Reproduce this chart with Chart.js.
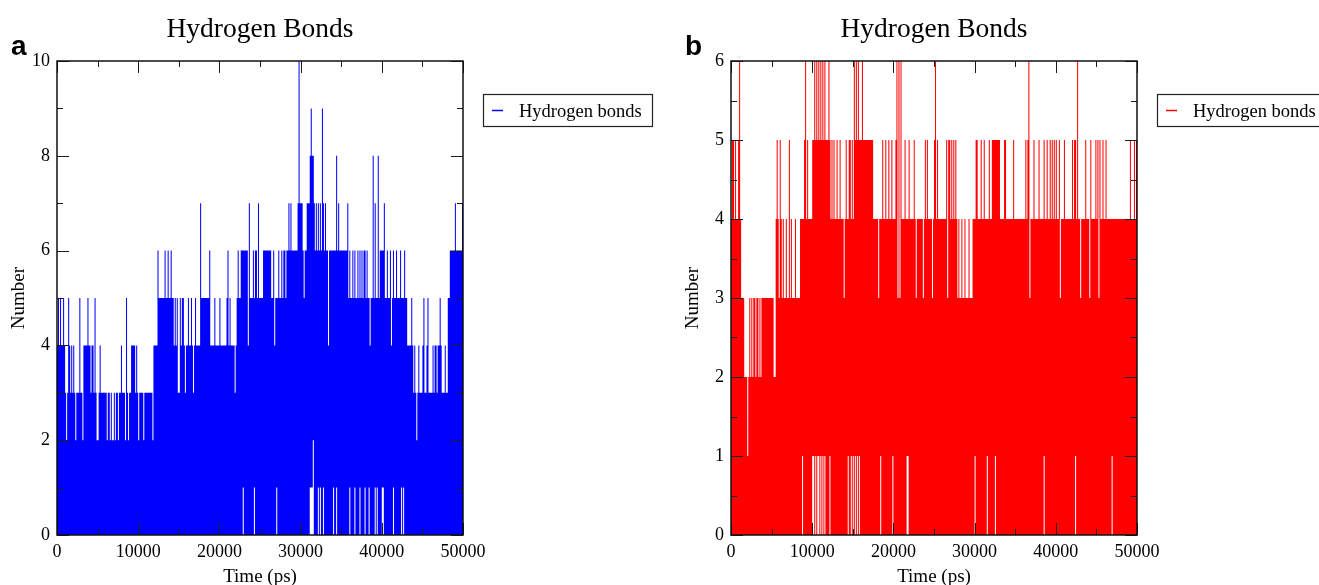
<!DOCTYPE html>
<html>
<head>
<meta charset="utf-8">
<script src="https://cdn.jsdelivr.net/npm/chart.js@4.4.1/dist/chart.umd.min.js"></script>
<style>
html,body{margin:0;padding:0;background:#fff;width:1319px;height:585px;overflow:hidden;}
canvas{position:absolute;top:0;}
#cA{left:0;}
#cB{left:674px;}
</style>
</head>
<body>
<canvas id="cA" width="674" height="585"></canvas>
<canvas id="cB" width="645" height="585"></canvas>
<script>
// ---------- DATA ----------
// Each value is the highest number of hydrogen bonds seen in a 125 ps bin.
const binPs = 125;

// Panel a (blue), 0-50000 ps in five 10000-ps blocks
const upperA0 = [4,5,4,5,4,4,5,4,3,2, 3,5,4,3,4,3,4,3,2,3, 3,3,5,3,3,2,4,4,4,4, 5,4,4,3,4,4,3,5,3,2, 2,3,4,3,3,3,3,3,3,2, 3,3,2,3,2,2,3,2,3,3, 2,3,3,4,3,3,3,2,5,3, 2,3,3,4,4,4,4,3,4,3];
const upperA1 = [2,3,3,3,3,2,3,3,3,3, 3,3,3,3,2,4,4,4,4,6, 5,5,5,5,5,5,6,5,5,6, 5,5,6,5,5,4,5,4,5,3, 3,5,4,5,5,4,3,4,4,5, 4,4,5,4,3,4,5,4,4,4, 4,7,5,5,5,5,5,5,5,5, 6,4,4,4,4,5,4,4,4,4];
const upperA2 = [5,4,4,4,4,4,4,5,6,4, 5,4,4,4,4,3,4,5,6,5, 5,6,6,6,6,6,6,6,4,7, 5,5,5,6,5,6,6,5,7,5, 5,5,5,6,6,6,6,6,6,6, 6,5,5,6,4,5,5,5,6,5, 5,6,5,6,6,5,6,6,7,6, 7,6,6,6,6,6,6,7,10,7];
const upperA3 = [7,7,6,5,6,6,7,7,7,8, 9,8,8,7,6,7,6,7,6,7, 6,9,7,6,7,6,6,4,6,6, 6,6,6,6,6,8,6,7,6,6, 6,6,6,6,6,6,7,5,6,5, 5,6,5,6,5,5,6,5,6,5, 6,5,6,6,5,6,5,5,4,5, 5,8,5,7,5,5,8,5,6,6];
const upperA4 = [6,6,7,5,5,6,5,5,6,4, 5,6,5,5,6,5,5,5,6,5, 5,5,6,5,5,4,4,4,4,5, 4,3,4,3,2,3,4,3,3,3, 4,5,3,3,4,5,3,3,3,3, 4,3,4,4,3,4,4,5,4,3, 3,3,4,3,3,5,5,6,6,6, 6,6,7,6,6,6,6,6,6,7];
// bins where the count never dropped to 0 (time in ps, lowest count)
const dipTimesA  = [22875,24250,27000,31125,31250,31375,31500,32125,32375,32750,34000,34375,36000,36625,37250,37875,38375,39125,39375,40000,40125,41375,42375,42625];
const dipLevelsA = [1,1,1,1,1,1,2,1,1,1,1,1,1,1,1,1,1,1,1,1,1,1,1,1];

// Panel b (red)
const upperB0 = [4,5,5,4,5,4,4,5,6,4, 3,3,3,2,2,2,1,2,3,2, 3,2,3,3,2,3,3,2,3,2, 3,3,3,3,3,3,3,3,3,3, 3,3,2,2,4,5,4,3,5,4, 3,4,3,3,4,3,3,5,3,4, 3,3,3,4,3,3,3,3,4,4, 4,4,5,6,4,5,4,4,4,4];
const upperB1 = [5,5,6,5,6,5,6,5,6,5, 6,5,6,5,5,5,6,5,4,5, 4,5,4,4,5,4,4,5,4,4, 4,3,4,5,4,4,5,5,4,5, 4,6,5,6,5,6,5,5,5,6, 5,5,5,5,5,5,5,5,5,5, 4,4,4,4,4,3,4,4,4,5, 4,4,5,4,4,5,4,4,5,4];
const upperB2 = [4,4,5,6,3,6,3,6,4,4, 4,5,4,4,4,5,4,4,4,4, 5,4,3,4,4,4,4,4,4,3, 4,5,4,5,4,4,4,4,3,4, 5,6,4,5,4,4,4,4,4,4, 4,4,5,3,5,5,4,5,4,5, 4,5,4,3,4,3,3,4,3,3, 4,3,3,3,4,3,3,3,4,4];
const upperB3 = [4,5,5,4,4,4,5,4,4,5, 4,4,4,4,5,4,4,5,5,5, 5,5,5,5,5,4,4,4,4,5, 5,4,4,4,4,4,4,4,5,4, 4,4,4,4,4,4,4,4,4,4, 5,4,5,6,3,4,4,4,5,4, 4,4,4,5,4,4,4,4,5,4, 4,5,4,4,5,4,5,4,5,4];
const upperB4 = [5,4,4,5,3,4,4,4,5,4, 4,4,4,4,4,4,5,4,5,5, 4,6,4,4,3,4,4,4,4,5, 4,4,4,3,5,4,4,4,4,5, 4,5,3,5,4,4,5,4,4,5, 4,4,4,4,4,4,4,4,4,4, 4,4,4,4,4,4,4,4,4,4, 4,4,4,5,4,4,4,5,4,5];
const dipTimesB  = [8750,10000,10125,10375,10625,10750,11000,11250,11500,12125,14375,14750,15000,15250,15500,15750,18375,19875,21625,21750,30000,31500,32500,38500,42375,46875];
const dipLevelsB = [1,1,1,1,1,1,1,1,1,1,1,1,1,1,1,1,1,1,1,1,1,1,1,1,1,1];

// Ticks
const xMajorTicks = [0,10000,20000,30000,40000,50000];
const xMinorTicks = [5000,15000,25000,35000,45000];
const yMajorA = [0,2,4,6,8,10];
const yMinorA = [1,3,5,7,9];
const yMajorB = [0,1,2,3,4,5,6];
const yMinorB = [0.5,1.5,2.5,3.5,4.5,5.5];

// ---------- BUILD ----------
Chart.defaults.font.family = '"Liberation Serif","Times New Roman",serif';
Chart.defaults.color = '#000';

function envelope(blocks, dipTimes, dipLevels) {
  const upper = [].concat(...blocks);
  const lower = upper.map(() => 0);
  dipTimes.forEach((t, i) => { lower[Math.round(t / binPs)] = dipLevels[i]; });
  const hi = upper.map((v, k) => ({x: k * binPs, y: v}));
  const lo = lower.map((v, k) => ({x: k * binPs, y: v}));
  hi.push({x: upper.length * binPs, y: upper[upper.length - 1]});
  lo.push({x: lower.length * binPs, y: lower[lower.length - 1]});
  return {hi, lo};
}

const decor = {
  id: 'decor',
  afterDatasetsDraw(chart, args, o) {
    const {ctx, chartArea: a} = chart;
    const xs = chart.scales.x, ys = chart.scales.y;
    ctx.save();
    ctx.strokeStyle = '#1a1a1a';
    ctx.lineWidth = 1;
    const vt = (vals, len) => vals.forEach(v => {
      const p = Math.round(xs.getPixelForValue(v)) + 0.5;
      ctx.beginPath();
      ctx.moveTo(p, a.bottom); ctx.lineTo(p, a.bottom - len);
      ctx.moveTo(p, a.top); ctx.lineTo(p, a.top + len);
      ctx.stroke();
    });
    const ht = (vals, len) => vals.forEach(v => {
      const p = Math.round(ys.getPixelForValue(v)) + 0.5;
      ctx.beginPath();
      ctx.moveTo(a.left, p); ctx.lineTo(a.left + len, p);
      ctx.moveTo(a.right, p); ctx.lineTo(a.right - len, p);
      ctx.stroke();
    });
    vt(o.xMajor, 12); vt(o.xMinor, 6);
    ht(o.yMajor, 12); ht(o.yMinor, 6);
    ctx.lineWidth = 1.5;
    ctx.strokeStyle = '#111';
    ctx.strokeRect(a.left, a.top, a.right - a.left, a.bottom - a.top);
    ctx.restore();
  },
  afterDraw(chart, args, o) {
    const {ctx, chartArea: a} = chart;
    ctx.save();
    // title
    ctx.fillStyle = '#000';
    ctx.font = '27.5px "Liberation Serif"';
    ctx.textAlign = 'center';
    ctx.textBaseline = 'alphabetic';
    ctx.fillText(o.title, (a.left + a.right) / 2, 37);
    // panel letter
    ctx.font = 'bold 28px "Liberation Sans"';
    ctx.textAlign = 'left';
    ctx.fillText(o.letter, 11, 55);
    // legend
    const lx = a.right + 20, ly = 94;
    ctx.fillStyle = '#fff';
    ctx.fillRect(lx, ly, 169, 32);
    ctx.strokeStyle = '#222';
    ctx.lineWidth = 1.2;
    ctx.strokeRect(lx + 0.5, ly + 0.5, 169, 32);
    ctx.strokeStyle = o.color;
    ctx.lineWidth = 1.5;
    ctx.beginPath(); ctx.moveTo(lx + 9, ly + 16.5); ctx.lineTo(lx + 20, ly + 16.5); ctx.stroke();
    ctx.fillStyle = '#000';
    ctx.font = '18.5px "Liberation Serif"';
    ctx.fillText(chart.data.datasets[1].label, lx + 36, ly + 22.5);
    ctx.restore();
  }
};

function makeChart(id, blocks, dipTimes, dipLevels, color, yMax, yMajor, yMinor, letter) {
  const env = envelope(blocks, dipTimes, dipLevels);
  const canvas = document.getElementById(id);
  return new Chart(canvas, {
    type: 'line',
    data: {
      datasets: [
        {label: 'Hydrogen bonds (minimum)', data: env.lo, stepped: true, borderWidth: 0,
         pointRadius: 0, fill: false, borderColor: color},
        {label: 'Hydrogen bonds', data: env.hi, stepped: true, borderWidth: 0,
         pointRadius: 0, fill: '-1', borderColor: color, backgroundColor: color}
      ]
    },
    options: {
      responsive: false,
      animation: false,
      devicePixelRatio: 1,
      layout: {padding: {left: 0, top: 61, bottom: 0, right: canvas.width - 463}},
      plugins: {
        legend: {display: false},
        tooltip: {enabled: false},
        decor: {title: 'Hydrogen Bonds', letter: letter, color: color,
                xMajor: xMajorTicks, xMinor: xMinorTicks, yMajor: yMajor, yMinor: yMinor}
      },
      scales: {
        x: {
          type: 'linear', min: 0, max: 50000,
          grid: {display: false, drawTicks: false},
          border: {display: false},
          afterBuildTicks: s => { s.ticks = xMajorTicks.map(v => ({value: v})); },
          afterFit: s => { s.height = 50; },
          ticks: {padding: 6, autoSkip: false, maxRotation: 0, font: {size: 18}, color: '#000',
                  callback: v => String(v)},
          title: {display: true, text: 'Time (ps)', font: {size: 19, lineHeight: 1},
                  padding: {top: 0, bottom: -1.5}, color: '#000'}
        },
        y: {
          type: 'linear', min: 0, max: yMax,
          grid: {display: false, drawTicks: false},
          border: {display: false},
          afterBuildTicks: s => { s.ticks = yMajor.map(v => ({value: v})); },
          afterFit: s => { s.width = 57; },
          ticks: {padding: 7, autoSkip: false, font: {size: 18}, color: '#000',
                  callback: v => String(v)},
          title: {display: true, text: 'Number', font: {size: 19, lineHeight: 1},
                  padding: {top: 10, bottom: 0}, color: '#000'}
        }
      }
    },
    plugins: [decor]
  });
}

makeChart('cA', [upperA0, upperA1, upperA2, upperA3, upperA4], dipTimesA, dipLevelsA,
          '#0000ff', 10, yMajorA, yMinorA, 'a');
makeChart('cB', [upperB0, upperB1, upperB2, upperB3, upperB4], dipTimesB, dipLevelsB,
          '#ff0000', 6, yMajorB, yMinorB, 'b');
</script>
</body>
</html>
